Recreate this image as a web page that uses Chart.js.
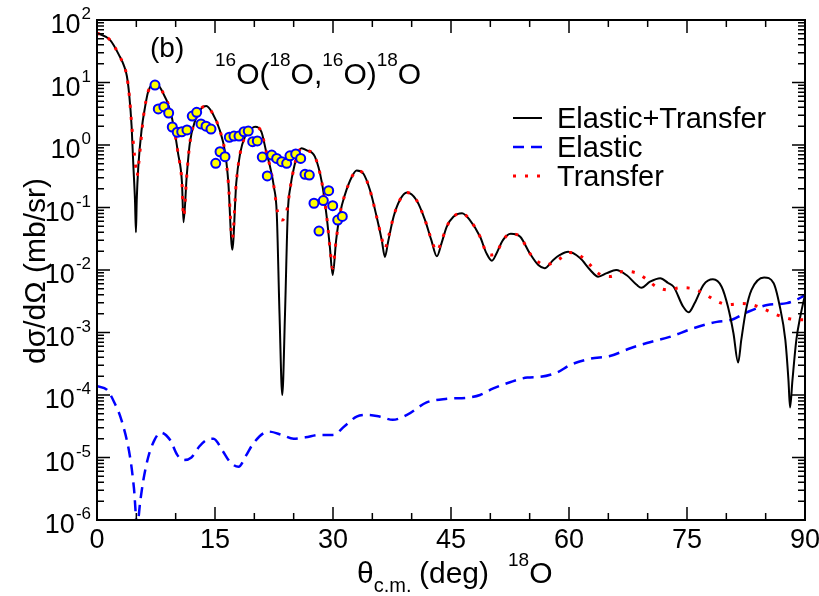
<!DOCTYPE html>
<html>
<head>
<meta charset="utf-8">
<script src="https://cdn.jsdelivr.net/npm/chart.js@4.4.1/dist/chart.umd.min.js"></script>
<style>
  html, body { margin: 0; padding: 0; background: #fff; }
  #wrap { width: 819px; height: 596px; }
</style>
</head>
<body>
<div id="wrap"><canvas id="xsec" width="819" height="596"></canvas></div>
<script>
// 16O(18O,16O)18O angular distributions, theta c.m. in deg, dsigma/dOmega in mb/sr
const totalAngles = [0, 1.65, 2.9, 3.4, 3.8, 4.1, 4.4, 4.61, 4.83, 4.95, 5.05, 5.25, 5.68, 6.1, 6.5, 7.4, 8.2, 9.3, 9.9, 10.3, 10.8, 11.0,
  11.4, 11.8, 12.5, 13.3, 13.9, 14.7, 15.6, 16.3, 16.7, 17.2, 17.7, 18.2, 18.8, 19.7, 20.1, 20.9, 21.5, 22.0, 22.5, 22.85,
  23.2, 23.55, 23.9, 24.25, 24.6, 25.1, 25.5, 26.0, 26.6, 27.7, 28.6, 29.2, 29.6, 29.96, 30.4, 30.9, 31.5, 32.4, 33.0, 33.85,
  34.7, 35.55, 36.2, 36.6, 37.0, 37.7, 38.5, 39.4, 40.6, 41.7, 42.5, 43.2, 43.8, 44.45, 45.3, 46.4, 47.4, 48.7, 49.5, 50.2,
  50.8, 51.6, 52.6, 53.8, 55.0, 56.1, 56.9, 58.0, 58.85, 59.9, 61.4, 62.7, 63.7, 64.8, 66.0, 67.3, 68.6, 69.2, 70.3, 71.6,
  72.6, 73.3, 74.5, 75.2, 76.0, 77.1, 78.3, 79.4, 80.2, 80.9, 81.5, 81.9, 82.5, 83.2, 84.8, 86.0, 86.8, 87.5, 87.9, 88.1,
  88.4, 88.9, 89.4, 90];
const totalValues = [62, 48, 26, 19, 12.6, 6.3, 2.0, 0.5, 0.13, 0.04, 0.13, 0.45, 1.8, 4.0, 7.1, 10, 7.6, 3.6, 1.55, 0.74, 0.25, 0.058,
  0.31, 1.07, 2.5, 3.9, 4.2, 3.2, 1.74, 0.74, 0.245, 0.021, 0.245, 0.74, 1.35, 1.86, 1.95, 1.62, 0.79, 0.45, 0.21, 0.081,
  0.002, 0.0001, 0.002, 0.081, 0.22, 0.47, 0.71, 0.89, 0.83, 0.65, 0.245, 0.071, 0.0234, 0.0083, 0.030, 0.081, 0.158, 0.31, 0.39, 0.35,
  0.19, 0.071, 0.030, 0.0162, 0.028, 0.071, 0.132, 0.174, 0.132, 0.063, 0.030, 0.0166, 0.0269, 0.049, 0.071, 0.081, 0.063, 0.034, 0.0186, 0.0141,
  0.0186, 0.030, 0.038, 0.034, 0.0186, 0.012, 0.0107, 0.0145, 0.0174, 0.0195, 0.0155, 0.010, 0.0078, 0.0089, 0.010, 0.0083, 0.0058, 0.0052, 0.0065, 0.0074,
  0.0062, 0.0054, 0.0026, 0.0021, 0.0030, 0.0058, 0.0071, 0.0054, 0.0026, 0.00098, 0.00033, 0.00076, 0.0023, 0.0048, 0.0076, 0.0062, 0.0026, 0.00076, 0.00017, 0.000063,
  0.00017, 0.00076, 0.0018, 0.004];

const elasticAngles = [0, 1.3, 2.2, 3.1, 4.2, 4.7, 5.1, 5.5, 5.9, 6.5, 7.3, 8.1, 9.3, 10.2, 11.0, 12.0, 13.0, 13.9, 14.8, 16.0,
  16.9, 18.0, 19.0, 19.9, 21.8, 23.5, 25.0, 26.5, 28.3, 30.0, 31.5, 33.0, 34.5, 36.0, 37.6, 39.4, 41.9, 44.5, 47.2, 48.7,
  50.3, 52.5, 54.7, 56.3, 58.5, 60.1, 62.7, 65.2, 67.8, 69.9, 72.8, 75.8, 78.8, 80.7, 82.6, 85.2, 87.7, 89.6, 90];
const elasticValues = [1.38e-4, 1.2e-4, 7.6e-5, 4.0e-5, 1.02e-5, 3.2e-6, 8e-7, 2.0e-6, 4.4e-6, 1.0e-5, 1.9e-5, 2.5e-5, 1.9e-5, 1.1e-5, 9.1e-6, 1.0e-5, 1.5e-5, 1.9e-5, 2.0e-5, 1.26e-5,
  8.5e-6, 7.1e-6, 1.1e-5, 1.7e-5, 2.6e-5, 2.3e-5, 2.0e-5, 2.1e-5, 2.3e-5, 2.3e-5, 3.2e-5, 4.5e-5, 4.8e-5, 4.5e-5, 4.0e-5, 4.8e-5, 7.6e-5, 8.7e-5, 9.1e-5, 1.0e-4,
  1.26e-4, 1.6e-4, 1.9e-4, 1.95e-4, 2.3e-4, 3.0e-4, 3.8e-4, 4.2e-4, 5.6e-4, 6.8e-4, 8.5e-4, 1.17e-3, 1.48e-3, 1.6e-3, 2.1e-3, 2.75e-3, 2.95e-3, 3.7e-3, 4.0e-3];

const transferAngles = [0, 1.65, 2.9, 3.4, 3.8, 4.1, 4.4, 4.75, 5.0, 5.1, 5.3, 5.5, 5.9, 6.5, 7.4, 8.2, 9.3, 9.9, 10.3, 10.8, 11.0,
  11.4, 11.8, 12.5, 13.3, 13.9, 14.7, 15.6, 16.3, 16.7, 17.2, 17.7, 18.2, 18.8, 19.7, 20.1, 20.9, 21.5, 22.0, 22.5, 22.95,
  23.5, 24.1, 24.6, 25.1, 25.5, 26.0, 26.6, 27.7, 28.6, 29.2, 29.6, 29.96, 30.4, 30.9, 31.5, 32.4, 33.0, 33.85, 34.7, 35.55,
  36.2, 36.6, 37.0, 37.7, 38.5, 39.4, 40.6, 41.7, 42.5, 43.2, 43.8, 44.45, 45.3, 46.4, 47.4, 48.7, 49.5, 50.2, 50.8, 51.6,
  52.6, 53.8, 55.0, 56.1, 57.0, 58.6, 60.0, 61.5, 62.7, 63.8, 65.3, 66.8, 68.4, 69.8, 71.1, 72.6, 74.2, 75.8, 77.3, 78.7,
  80.2, 81.9, 83.4, 85.0, 86.5, 88.0, 89.6, 90];
const transferValues = [62, 48, 26, 19, 12.6, 6.3, 2.2, 0.71, 0.38, 0.32, 0.5, 0.89, 2.8, 7.1, 10, 7.6, 3.6, 1.55, 0.74, 0.25, 0.071,
  0.31, 1.07, 2.5, 3.9, 4.2, 3.2, 1.74, 0.74, 0.245, 0.032, 0.245, 0.74, 1.35, 1.86, 1.95, 1.62, 0.79, 0.45, 0.21, 0.085,
  0.063, 0.085, 0.22, 0.47, 0.71, 0.89, 0.83, 0.65, 0.245, 0.071, 0.0234, 0.0107, 0.030, 0.081, 0.158, 0.31, 0.39, 0.35, 0.19, 0.071,
  0.032, 0.022, 0.032, 0.071, 0.132, 0.174, 0.132, 0.063, 0.031, 0.020, 0.029, 0.049, 0.071, 0.081, 0.063, 0.034, 0.019, 0.0174, 0.019, 0.030,
  0.038, 0.034, 0.0186, 0.0135, 0.012, 0.0145, 0.019, 0.0166, 0.012, 0.0087, 0.0079, 0.0095, 0.0091, 0.0072, 0.0054, 0.0048, 0.0052, 0.0050, 0.0041, 0.0032,
  0.0028, 0.0029, 0.00275, 0.0023, 0.0019, 0.00166, 0.0016, 0.0016];

// measured points
const expAngles = [7.37, 7.79, 8.5, 9.11, 9.57, 10.2, 10.77, 11.44, 12.11, 12.67, 13.22, 13.86, 14.49, 15.09, 15.64, 16.27, 16.82, 17.41, 18.05, 18.69,
  19.23, 19.79, 20.38, 21.01, 21.65, 22.21, 22.84, 23.48, 24.11, 24.53, 25.26, 25.89, 26.44, 26.99, 27.58, 28.22, 28.77, 29.45, 29.96, 30.6, 31.18];
const expValues = [9.1, 3.77, 4.1, 3.25, 1.94, 1.6, 1.63, 1.74, 2.9, 3.33, 2.17, 2.0, 1.8, 0.51, 0.78, 0.65, 1.33, 1.39, 1.39, 1.63,
  1.67, 1.13, 1.16, 0.64, 0.32, 0.69, 0.61, 0.54, 0.51, 0.67, 0.72, 0.61, 0.34, 0.33, 0.117, 0.042, 0.129, 0.186, 0.107, 0.063, 0.072];

const xLabelled = [0, 15, 30, 45, 60, 75, 90];
const legendNames = ['Elastic+Transfer', 'Elastic', 'Transfer'];

const FONT = "'Liberation Sans', Arial, sans-serif";
const pts = (xs, ys) => xs.map((x, i) => ({ x, y: ys[i] }));
const isDecade = v => Math.abs(Math.log10(v) - Math.round(Math.log10(v))) < 1e-6;

// draw a run of text pieces (normal / super / subscript) left to right
function drawRuns(ctx, x, base, runs) {
  runs.forEach(r => {
    ctx.font = r.size + 'px ' + FONT;
    if (r.x !== undefined) x = r.x;
    ctx.fillText(r.t, x, base + (r.dy || 0));
    x += ctx.measureText(r.t).width;
  });
}

const decor = {
  id: 'decor',
  afterDraw(chart) {
    const { ctx, chartArea: a, scales: { x, y } } = chart;
    ctx.save();
    ctx.strokeStyle = '#000';
    ctx.fillStyle = '#000';

    // frame
    ctx.lineWidth = 2;
    ctx.strokeRect(a.left, a.top, a.right - a.left, a.bottom - a.top);

    // inward ticks on all four sides
    ctx.lineWidth = 1.5;
    ctx.beginPath();
    x.ticks.forEach(t => {
      const px = x.getPixelForValue(t.value);
      const len = t.value % 15 === 0 ? 13 : 7;
      ctx.moveTo(px, a.bottom); ctx.lineTo(px, a.bottom - len);
      ctx.moveTo(px, a.top); ctx.lineTo(px, a.top + len);
    });
    y.ticks.forEach(t => {
      const py = y.getPixelForValue(t.value);
      const len = isDecade(t.value) ? 13 : 7;
      ctx.moveTo(a.left, py); ctx.lineTo(a.left + len, py);
      ctx.moveTo(a.right, py); ctx.lineTo(a.right - len, py);
    });
    ctx.stroke();

    // tick labels
    ctx.textBaseline = 'alphabetic';
    ctx.textAlign = 'center';
    ctx.font = '27px ' + FONT;
    x.ticks.forEach(t => {
      if (xLabelled.includes(t.value)) ctx.fillText(String(t.value), x.getPixelForValue(t.value), a.bottom + 28);
    });
    // 10^n labels, right-justified against the axis
    ctx.textAlign = 'left';
    y.ticks.forEach(t => {
      if (!isDecade(t.value)) return;
      const py = y.getPixelForValue(t.value);
      const ex = String(Math.round(Math.log10(t.value)));
      ctx.font = '17px ' + FONT;
      const wEx = ctx.measureText(ex).width;
      ctx.font = '27px ' + FONT;
      const wBase = ctx.measureText('10').width;
      const left = a.left - 6 - wEx - 1 - wBase;
      ctx.fillText('10', left, py + 13);
      ctx.font = '17px ' + FONT;
      ctx.fillText(ex, left + wBase + 1, py - 1);
    });

    // axis titles
    drawRuns(ctx, 357, 583, [
      { t: 'θ', size: 30 },
      { t: 'c.m.', size: 20, dy: 9 },
      { t: '(deg)', size: 30, x: 419 },
      { t: '18', size: 19, dy: -17, x: 508 },
      { t: 'O', size: 30 }
    ]);
    ctx.save();
    ctx.translate(45, (a.top + a.bottom) / 2 + 1);
    ctx.rotate(-Math.PI / 2);
    ctx.textAlign = 'center';
    ctx.font = '30px ' + FONT;
    ctx.fillText('dσ/dΩ (mb/sr)', 0, 0);
    ctx.restore();

    // panel tag and reaction
    ctx.font = '28px ' + FONT;
    ctx.fillText('(b)', 150, 57);
    drawRuns(ctx, 215, 84, [
      { t: '16', size: 19, dy: -18 }, { t: 'O(', size: 30 },
      { t: '18', size: 19, dy: -18 }, { t: 'O,', size: 30 },
      { t: '16', size: 19, dy: -18 }, { t: 'O)', size: 30 },
      { t: '18', size: 19, dy: -18 }, { t: 'O', size: 30 }
    ]);

    // legend
    const rows = [
      { color: '#000', dash: [], width: 2, y: 118 },
      { color: '#0000ff', dash: [11, 7], width: 2.5, y: 147 },
      { color: '#ff0000', dash: [3, 9], width: 3, y: 176 }
    ];
    rows.forEach((r, i) => {
      ctx.beginPath();
      ctx.strokeStyle = r.color;
      ctx.lineWidth = r.width;
      ctx.setLineDash(r.dash);
      ctx.moveTo(513, r.y); ctx.lineTo(542, r.y);
      ctx.stroke();
      ctx.setLineDash([]);
      ctx.font = '29px ' + FONT;
      ctx.fillStyle = '#000';
      ctx.fillText(legendNames[i], 557, r.y + 10);
    });
    ctx.restore();
  }
};

new Chart(document.getElementById('xsec'), {
  type: 'line',
  data: {
    datasets: [
      {
        label: 'Data',
        data: pts(expAngles, expValues),
        showLine: false,
        pointRadius: 4.5,
        pointBorderWidth: 2,
        pointBackgroundColor: '#ffff00',
        pointBorderColor: '#0000ff'
      },
      {
        label: legendNames[2],
        data: pts(transferAngles, transferValues),
        borderColor: '#ff0000',
        borderWidth: 3,
        borderDash: [3, 9],
        pointRadius: 0,
        cubicInterpolationMode: 'monotone',
        clip: 0
      },
      {
        label: legendNames[0],
        data: pts(totalAngles, totalValues),
        borderColor: '#000',
        borderWidth: 2,
        pointRadius: 0,
        cubicInterpolationMode: 'monotone',
        clip: 0
      },
      {
        label: legendNames[1],
        data: pts(elasticAngles, elasticValues),
        borderColor: '#0000ff',
        borderWidth: 2.5,
        borderDash: [11, 7],
        pointRadius: 0,
        cubicInterpolationMode: 'monotone',
        clip: 0
      }
    ]
  },
  options: {
    responsive: false,
    animation: false,
    events: [],
    layout: { padding: { left: 0, top: 20, right: 14, bottom: 0 } },
    plugins: { legend: { display: false }, tooltip: { enabled: false } },
    scales: {
      x: {
        type: 'linear', min: 0, max: 90,
        ticks: { stepSize: 5, display: false },
        grid: { display: false }, border: { display: false },
        afterFit: s => { s.height = 76; s.paddingLeft = 0; s.paddingRight = 0; }
      },
      y: {
        type: 'logarithmic', min: 1e-6, max: 100,
        ticks: { display: false },
        grid: { display: false }, border: { display: false },
        afterBuildTicks: s => {
          // keep 1..9 x 10^n only
          s.ticks = s.ticks.filter(t => {
            const m = t.value / Math.pow(10, Math.floor(Math.log10(t.value) + 1e-9));
            return Math.abs(m - Math.round(m)) < 1e-6;
          });
        },
        afterFit: s => { s.width = 97; s.paddingTop = 0; s.paddingBottom = 0; }
      }
    }
  },
  plugins: [decor]
});
</script>
</body>
</html>
